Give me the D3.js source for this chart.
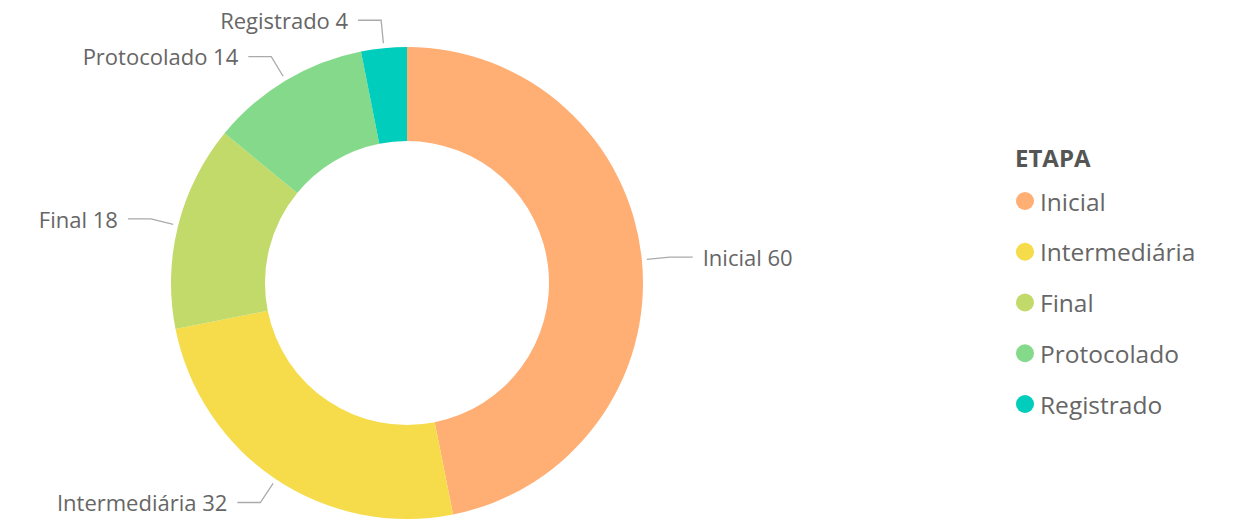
<!DOCTYPE html>
<html>
<head>
<meta charset="utf-8">
<script src="https://cdn.jsdelivr.net/npm/d3@7"></script>
<style>
  body { margin: 0; background: #fff; }
  svg text { font-family: "Open Sans", "Noto Sans", sans-serif; }
</style>
</head>
<body>
<div id="chart"></div>
<script>
const categories = ["Inicial", "Intermediária", "Final", "Protocolado", "Registrado"];
const values = [60, 32, 18, 14, 4];
const colors = ["#FFAE74", "#F6DC4A", "#C1DA6A", "#84DA8A", "#00CDBB"];
const legendTitle = "ETAPA";

const [width, height] = [1236, 522];
const center = { x: 407, y: 283 };
const outerR = 236, innerR = 142;

const svg = d3.select("#chart").append("svg").attr("width", width).attr("height", height);

const data = categories.map((c, i) => ({ name: c, value: values[i], color: colors[i] }));

const pie = d3.pie().value(d => d.value).sort(null);
const arc = d3.arc().innerRadius(innerR).outerRadius(outerR);
const arcs = pie(data);

const g = svg.append("g").attr("transform", `translate(${center.x}, ${center.y})`);

g.selectAll("path").data(arcs).enter().append("path")
  .attr("d", arc)
  .attr("fill", d => d.data.color);

// leader lines + labels
const startArc = d3.arc().innerRadius(241).outerRadius(241);
const elbowArc = d3.arc().innerRadius(264).outerRadius(264);
const hLen = 23, gap = 10;

const labels = g.selectAll("g.lbl").data(arcs).enter().append("g").attr("class", "lbl");
labels.append("polyline")
  .attr("fill", "none")
  .attr("stroke", "#aaaaaa")
  .attr("stroke-width", 1.3)
  .attr("points", d => {
    const a = startArc.centroid(d), b = elbowArc.centroid(d);
    const mid = (d.startAngle + d.endAngle) / 2;
    const dir = mid < Math.PI ? 1 : -1;
    return [a, b, [b[0] + dir * hLen, b[1]]].map(p => p.join(",")).join(" ");
  });
labels.append("text")
  .attr("x", d => {
    const b = elbowArc.centroid(d);
    const mid = (d.startAngle + d.endAngle) / 2;
    const dir = mid < Math.PI ? 1 : -1;
    return b[0] + dir * (hLen + gap);
  })
  .attr("y", d => elbowArc.centroid(d)[1] + 1)
  .attr("dy", "0.35em")
  .attr("text-anchor", d => (d.startAngle + d.endAngle) / 2 < Math.PI ? "start" : "end")
  .attr("font-size", 22)
  .attr("fill", "#666666")
  .text(d => `${d.data.name} ${d.data.value}`);

// legend
const legend = svg.append("g").attr("transform", "translate(1015, 0)");
legend.append("text")
  .attr("x", 0).attr("y", 159).attr("dy", "0.35em")
  .attr("font-size", 24).attr("font-weight", "bold").attr("fill", "#555555")
  .text(legendTitle);

const ly = d3.scalePoint().domain(categories).range([201, 404]);
const items = legend.selectAll("g.item").data(data).enter().append("g")
  .attr("transform", d => `translate(0, ${ly(d.name)})`);
items.append("circle").attr("cx", 10).attr("cy", 0).attr("r", 9).attr("fill", d => d.color);
items.append("text").attr("x", 25).attr("y", 1).attr("dy", "0.35em")
  .attr("font-size", 24.5).attr("fill", "#666666")
  .text(d => d.name);
</script>
</body>
</html>
